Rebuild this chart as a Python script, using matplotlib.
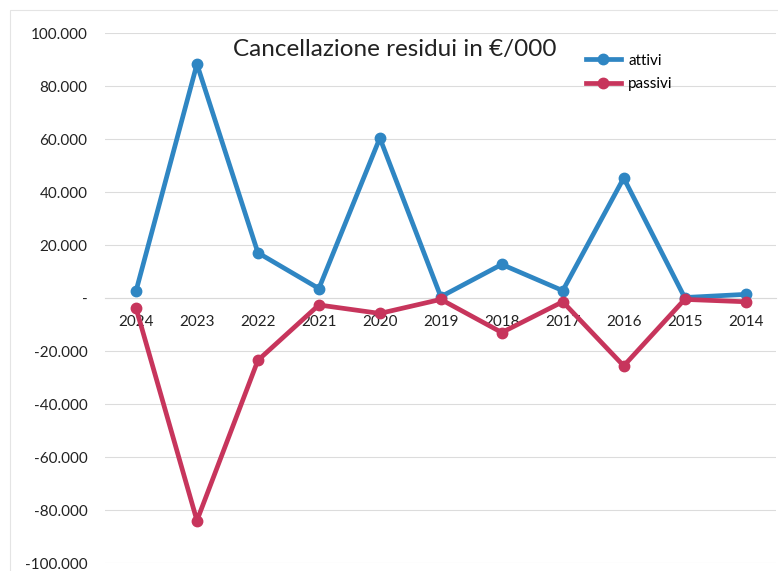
import numpy as np
import matplotlib.pyplot as plt
from matplotlib.ticker import FuncFormatter

plt.rcParams['font.family'] = ['Lato', 'DejaVu Sans']

anni = ['2024', '2023', '2022', '2021', '2020', '2019',
        '2018', '2017', '2016', '2015', '2014']
attivi = [2600, 88300, 17100, 3600, 60400, 500,
          12700, 2800, 45300, 200, 1400]
passivi = [-3700, -84000, -23500, -2600, -5800, -500,
           -13000, -1400, -25600, -500, -1400]
y_ticks = np.arange(-100000, 100001, 20000)

BLUE = '#2F86C3'
RED = '#C7355C'


def fmt_migliaia(v, pos):
    # formato contabile excel: 0 diventa "-"
    if abs(v) < 1e-9:
        return '-'
    return '{:,.0f}'.format(v).replace(',', '.')


fig = plt.figure(figsize=(7.78, 5.71), dpi=100)
ax = fig.add_axes([0.1356, 0.014, 0.862, 0.928])

x = np.arange(len(anni))
ax.plot(x, attivi, color=BLUE, lw=3.4, marker='o', ms=7.5,
        label='attivi', zorder=3)
ax.plot(x, passivi, color=RED, lw=3.4, marker='o', ms=7.5,
        label='passivi', zorder=3)

ax.set_xlim(-0.5, len(anni) - 0.5)
ax.set_ylim(-100000, 100000)
ax.set_yticks(y_ticks)
ax.yaxis.set_major_formatter(FuncFormatter(fmt_migliaia))
ax.set_xticks(x)
ax.set_xticklabels(anni)

for s in ['top', 'right', 'left']:
    ax.spines[s].set_visible(False)
ax.spines['bottom'].set_position(('data', 0))
ax.spines['bottom'].set_color('#d9d9d9')
ax.spines['bottom'].set_linewidth(0.8)
ax.tick_params(axis='x', length=0, pad=12, labelsize=11,
               labelcolor='#222222')
ax.tick_params(axis='y', length=0, pad=13, labelsize=11,
               labelcolor='#222222')
ax.grid(axis='y', color='#dcdcdc', lw=0.8)
ax.set_axisbelow(True)

fig.text(0.508, 0.913, 'Cancellazione residui in €/000', ha='center',
         va='center', fontsize=17.5, color='#222222')
fig.legend(loc='upper left', bbox_to_anchor=(0.735, 0.93),
           frameon=False, fontsize=11, handlelength=2.3,
           labelspacing=0.6, handletextpad=0.5)

# cornice leggera del grafico
fig.patches.append(plt.Rectangle((0.013, -0.01), 0.99, 0.993,
                                 transform=fig.transFigure, fill=False,
                                 ec='#e4e4e4', lw=0.8))

fig.savefig('out.png', dpi=100)
